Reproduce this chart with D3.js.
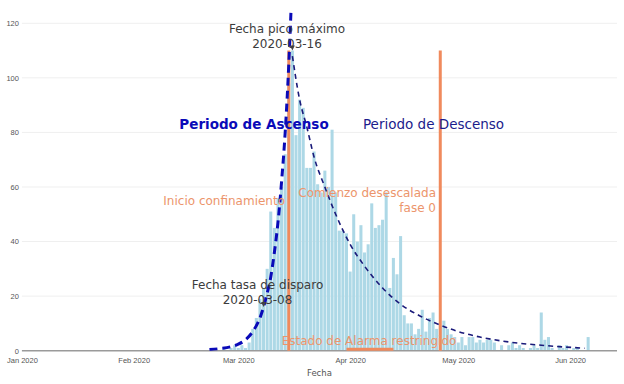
<!DOCTYPE html>
<html>
<head>
  <meta charset="utf-8">
  <title>Casos diarios</title>
  <style>
    body {
      margin: 0;
      background-color: #fff;
      font-family: 'DejaVu Sans', Verdana, sans-serif;
    }
    .grid line { stroke: #efefef; stroke-width: 1; }
    .axis text { fill: #555; font-size: 7.5px; }
    .bar { fill: #add8e6; }
    .orange { stroke: #f08a5d; stroke-width: 3; }
    .note { font-size: 12px; }
  </style>
</head>
<body>
  <div id="chart"></div>
  <script src="https://cdn.jsdelivr.net/npm/d3@7"></script>
  <script>
    // daily values, one per day starting at barStart
    var barStart = "2020-02-26";
    var barValues = [
      1, 0, 1, 2, 1, 2, 1, 3, 8, 12, 19, 23, 30, 51, 45, 56, 60, 72, 98, 110,
      79, 92, 89, 67, 67, 73, 61, 58, 66, 60, 81, 58, 44, 44, 43, 29, 50, 40, 46, 36,
      39, 54, 45, 46, 48, 58, 23, 34, 28, 42, 13, 10, 10, 6, 8, 15, 7, 12, 14, 8,
      9, 11, 8, 6, 5, 3, 5, 2, 5, 5, 3, 4, 3, 4, 4, 3, 0, 2, 0, 2,
      3, 1, 2, 1, 0, 1, 2, 1, 14, 4, 5, 1, 0, 2, 1, 2, 0, 1, 1, 0,
      0, 5
    ];

    // fitted curves
    var ascentDates = ["2020-02-22", "2020-02-25", "2020-02-28", "2020-03-01", "2020-03-03",
      "2020-03-05", "2020-03-07", "2020-03-08", "2020-03-09", "2020-03-10", "2020-03-11",
      "2020-03-12", "2020-03-13", "2020-03-14", "2020-03-15", "2020-03-16"];
    var ascentValues = [0.4, 0.8, 1.5, 2.4, 4, 7, 12, 16, 21, 27, 36, 47, 62, 80, 105, 138];

    var descentDates = ["2020-03-16", "2020-03-18", "2020-03-20", "2020-03-22", "2020-03-25",
      "2020-03-28", "2020-04-01", "2020-04-05", "2020-04-10", "2020-04-15", "2020-04-20",
      "2020-04-26", "2020-05-01", "2020-05-07", "2020-05-15", "2020-05-24", "2020-06-05"];
    var descentValues = [108, 92, 82, 71, 60, 50, 39, 31, 23, 17, 13, 9.4, 7, 5, 3.2, 2.0, 0.9];

    // orange markers
    var eventDates = ["2020-03-15", "2020-04-26"];
    var eventTop = 110;
    var restrictedRange = ["2020-03-31", "2020-04-13"];

    var yTicks = [0, 20, 40, 60, 80, 100, 120];
    var xDomain = ["2020-01-01", "2020-06-14"];

    var parse = d3.utcParse("%Y-%m-%d");
    var W = 624, H = 384;
    var plot = { left: 21.9, right: 617, top: 8, bottom: 350.7 };

    var x = d3.scaleUtc()
      .domain(xDomain.map(parse))
      .range([plot.left, plot.right]);
    var y = d3.scaleLinear()
      .domain([0, 125.6])
      .range([plot.bottom, plot.top]);

    var svg = d3.select("#chart").append("svg")
      .attr("width", W)
      .attr("height", H);

    svg.append("defs").append("clipPath").attr("id", "clip")
      .append("rect")
      .attr("x", plot.left).attr("y", plot.top)
      .attr("width", plot.right - plot.left)
      .attr("height", plot.bottom - plot.top);

    // gridlines
    svg.append("g").attr("class", "grid")
      .selectAll("line")
      .data(yTicks.slice(1))
      .enter().append("line")
      .attr("x1", plot.left).attr("x2", plot.right)
      .attr("y1", d => y(d)).attr("y2", d => y(d));

    // y axis labels
    var yAxis = svg.append("g").attr("class", "axis")
      .attr("transform", "translate(" + plot.left + ",0)")
      .call(d3.axisLeft(y).tickValues(yTicks).tickSize(0).tickPadding(3));
    yAxis.select(".domain").remove();

    // x axis labels
    var xAxis = svg.append("g").attr("class", "axis")
      .attr("transform", "translate(0," + plot.bottom + ")")
      .call(d3.axisBottom(x).ticks(d3.utcMonth.every(1))
        .tickFormat(d3.utcFormat("%b %Y")).tickSize(0).tickPadding(7));
    xAxis.select(".domain").remove();

    // bars
    var t0 = parse(barStart);
    var bars = barValues.map((v, i) => ({ date: d3.utcDay.offset(t0, i), value: v }));
    var bw = x(d3.utcDay.offset(t0, 1)) - x(t0);

    svg.append("g").attr("clip-path", "url(#clip)")
      .selectAll("rect")
      .data(bars)
      .enter().append("rect")
      .attr("class", "bar")
      .attr("x", d => x(d.date) - bw * 0.42)
      .attr("width", bw * 0.84)
      .attr("y", d => y(d.value))
      .attr("height", d => y(0) - y(d.value));

    // zero line
    svg.append("line")
      .attr("x1", plot.left).attr("x2", plot.right)
      .attr("y1", y(0)).attr("y2", y(0))
      .attr("stroke", "#9a9a9a").attr("stroke-width", 1.5);

    // orange event lines
    svg.append("g").selectAll("line")
      .data(eventDates)
      .enter().append("line")
      .attr("class", "orange")
      .attr("x1", d => x(parse(d))).attr("x2", d => x(parse(d)))
      .attr("y1", y(0)).attr("y2", y(eventTop));

    svg.append("line")
      .attr("class", "orange")
      .attr("x1", x(parse(restrictedRange[0])))
      .attr("x2", x(parse(restrictedRange[1])))
      .attr("y1", y(0) - 1.5).attr("y2", y(0) - 1.5);

    // fitted curves
    var line = d3.line()
      .x(d => x(d.date))
      .y(d => y(d.value))
      .curve(d3.curveMonotoneX);

    var curves = svg.append("g").attr("clip-path", "url(#clip)");

    curves.append("path")
      .datum(ascentDates.map((d, i) => ({ date: parse(d), value: ascentValues[i] })))
      .attr("d", line)
      .attr("fill", "none")
      .attr("stroke", "#0a0ab8")
      .attr("stroke-width", 3)
      .attr("stroke-dasharray", "8,5");

    curves.append("path")
      .datum(descentDates.map((d, i) => ({ date: parse(d), value: descentValues[i] })))
      .attr("d", line)
      .attr("fill", "none")
      .attr("stroke", "#1a1a7a")
      .attr("stroke-width", 1.6)
      .attr("stroke-dasharray", "5,4");

    // text helpers
    function label(lines, px, py, anchor, color, size, weight) {
      var t = svg.append("text")
        .attr("class", "note")
        .attr("text-anchor", anchor)
        .attr("fill", color)
        .style("font-size", size + "px")
        .style("font-weight", weight || "normal");
      lines.forEach(function(s, i) {
        t.append("tspan").attr("x", px).attr("y", py + i * 15).text(s);
      });
    }

    function arrowHead(px, py) {
      svg.append("path")
        .attr("d", "M" + px + "," + py + " l-2.5,-5 l5,0 z")
        .attr("fill", "#444");
    }

    var peakDate = parse("2020-03-16"), triggerDate = parse("2020-03-08");
    arrowHead(x(peakDate), y(110));
    arrowHead(x(triggerDate), y(16));

    label(["Fecha pico máximo", "2020-03-16"], 287, 33, "middle", "#3c3c3c", 12);
    label(["Fecha tasa de disparo", "2020-03-08"], 257.5, 289, "middle", "#3c3c3c", 12);
    label(["Periodo de Ascenso"], 254, 129, "middle", "#0a0ab8", 13.5, "bold");
    label(["Periodo de Descenso"], 433.5, 129, "middle", "#1c1c8c", 13.5);
    label(["Inicio confinamiento"], 285, 205, "end", "#ec956c", 12);
    label(["Comienzo desescalada", "fase 0"], 436, 197, "end", "#ec956c", 12);
    label(["Estado de Alarma restringido"], 369, 345, "middle", "#ec956c", 12);

    // axis title
    svg.append("text")
      .attr("x", (plot.left + plot.right) / 2)
      .attr("y", 376)
      .attr("text-anchor", "middle")
      .attr("fill", "#555")
      .style("font-size", "8.5px")
      .text("Fecha");
  </script>
</body>
</html>
